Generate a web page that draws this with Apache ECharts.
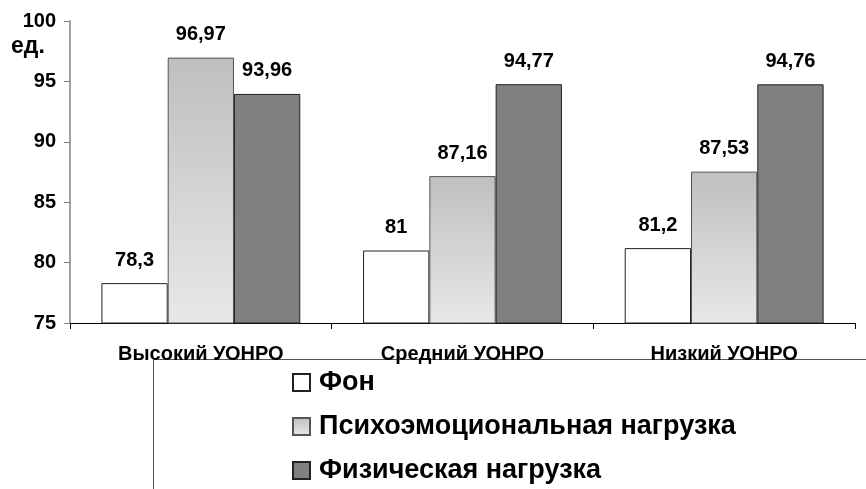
<!DOCTYPE html>
<html>
<head>
<meta charset="utf-8">
<script src="https://cdn.jsdelivr.net/npm/echarts@6/dist/echarts.min.js"></script>
<style>
  html, body { margin: 0; padding: 0; background: #fff; }
  #chart { width: 866px; height: 489px; }
</style>
</head>
<body>
<div id="chart"></div>
<script>
// Categories (level groups) and the three measurement series
const categories = ['Высокий УОНРО', 'Средний УОНРО', 'Низкий УОНРО'];
const seriesNames = ['Фон', 'Психоэмоциональная нагрузка', 'Физическая нагрузка'];
const fonValues = [78.3, 81, 81.2];
const psychoValues = [96.97, 87.16, 87.53];
const physicalValues = [93.96, 94.77, 94.76];
const yTicks = [75, 80, 85, 90, 95, 100];
const unitLabel = 'ед.';

const FONT = '"Liberation Sans", Arial, sans-serif';

const fmt = v => String(v).replace('.', ',');

const valueLabel = {
  show: true,
  position: 'top',
  distance: 13,
  fontFamily: FONT,
  fontWeight: 'bold',
  fontSize: 20,
  color: '#000',
  formatter: p => fmt(p.value)
};

const chart = echarts.init(document.getElementById('chart'), null, { renderer: 'canvas' });

chart.setOption({
  animation: false,
  backgroundColor: '#fff',
  grid: { left: 70, right: 11, top: 21, bottom: 166, containLabel: false },
  xAxis: {
    type: 'category',
    data: categories,
    axisLine: { lineStyle: { color: '#000', width: 1 } },
    axisTick: { show: true, length: 6, alignWithLabel: false, lineStyle: { color: '#000' } },
    axisLabel: {
      margin: 21,
      fontFamily: FONT,
      fontWeight: 'bold',
      fontSize: 20,
      color: '#000'
    },
    splitLine: { show: false }
  },
  yAxis: {
    type: 'value',
    min: yTicks[0],
    max: yTicks[yTicks.length - 1],
    interval: 5,
    axisLine: { show: true, lineStyle: { color: '#808080', width: 1.5 } },
    axisTick: { show: true, length: 6, inside: false, lineStyle: { color: '#808080' } },
    axisLabel: {
      margin: 14,
      fontFamily: FONT,
      fontWeight: 'bold',
      fontSize: 20,
      color: '#000'
    },
    splitLine: { show: false }
  },
  legend: {
    orient: 'vertical',
    left: 287,
    top: 364,
    itemWidth: 17,
    itemHeight: 17,
    itemGap: 17,
    icon: 'rect',
    selectedMode: false,
    textStyle: {
      fontFamily: FONT,
      fontWeight: 'bold',
      fontSize: 27,
      color: '#000',
      padding: [0, 0, 0, 4]
    },
    data: seriesNames
  },
  graphic: [
    {
      type: 'text',
      left: 11,
      top: 35,
      style: {
        text: unitLabel,
        font: 'bold 23px ' + FONT,
        fill: '#000'
      }
    },
    {
      type: 'polyline',
      shape: { points: [[153.5, 489], [153.5, 359.5], [866, 359.5]] },
      style: { stroke: '#555', lineWidth: 1, fill: null },
      z: -1
    }
  ],
  series: [
    {
      name: seriesNames[0],
      type: 'bar',
      data: fonValues,
      barGap: '0%',
      barCategoryGap: '24%',
      itemStyle: { color: '#ffffff', borderColor: '#222', borderWidth: 1 },
      label: valueLabel
    },
    {
      name: seriesNames[1],
      type: 'bar',
      data: psychoValues,
      barGap: '0%',
      barCategoryGap: '24%',
      itemStyle: {
        color: new echarts.graphic.LinearGradient(0, 0, 0, 1, [
          { offset: 0, color: '#bfbfbf' },
          { offset: 1, color: '#e8e8e8' }
        ]),
        borderColor: '#555',
        borderWidth: 1
      },
      label: valueLabel
    },
    {
      name: seriesNames[2],
      type: 'bar',
      data: physicalValues,
      barGap: '0%',
      barCategoryGap: '24%',
      itemStyle: { color: '#808080', borderColor: '#222', borderWidth: 1 },
      label: valueLabel
    }
  ]
});
</script>
</body>
</html>
